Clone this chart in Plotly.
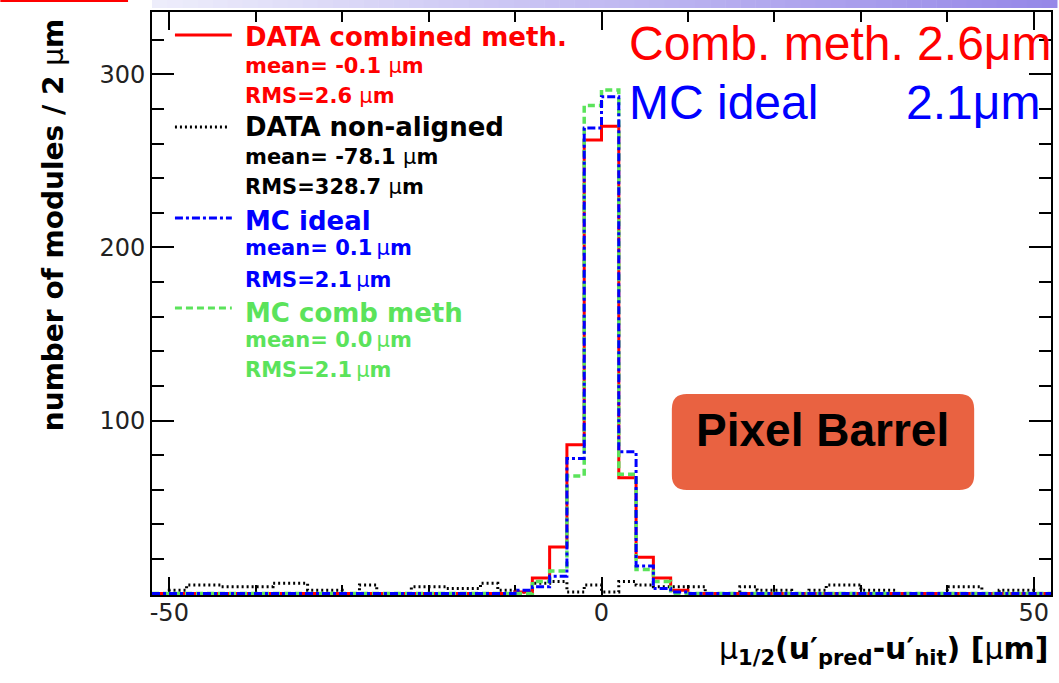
import plotly.graph_objects as go

# ---------------- data ----------------
bin_start = -52
bin_width = 2

data_combined = [0, 0, 0, 0, 0, 0, 0, 0, 0, 0,
                 0, 0, 0, 0, 0, 0, 0, 0, 0, 0,
                 0, 1, 9, 27, 86, 262, 270, 67, 21, 9,
                 2, 0, 0, 0, 0, 0, 0, 0, 0, 0,
                 0, 0, 0, 0, 0, 0, 0, 0, 0, 0,
                 0, 0]
data_nonaligned = [0, 2, 5, 5, 4, 4, 4, 6, 6, 2,
                   2, 0, 5, 0, 0, 4, 4, 3, 3, 6,
                   2, 1, 6, 7, 1, 5, 1, 7, 5, 4,
                   4, 4, 0, 0, 4, 2, 2, 0, 2, 5,
                   5, 2, 2, 0, 0, 0, 4, 4, 0, 2,
                   2, 0]
mc_ideal = [0, 0, 0, 0, 0, 0, 0, 0, 0, 0,
            0, 0, 0, 0, 0, 0, 0, 0, 0, 0,
            0, 2, 4, 10, 78, 269, 287, 82, 16, 3,
            1, 0, 0, 0, 0, 0, 0, 0, 0, 0,
            0, 0, 0, 0, 0, 0, 0, 0, 0, 0,
            0, 0]
mc_comb = [0, 0, 0, 0, 0, 0, 0, 0, 0, 0,
           0, 0, 0, 0, 0, 0, 0, 0, 0, 0,
           0, 0, 7, 13, 68, 282, 291, 69, 14, 7,
           0, 0, 0, 0, 0, 0, 0, 0, 0, 0,
           0, 0, 0, 0, 0, 0, 0, 0, 0, 0,
           0, 0]

x_tickvals = [-50, 0, 50]
x_ticktext = ["-50", "0", "50"]
y_tickvals = [100, 200, 300]
y_ticktext = ["100", "200", "300"]

# ---------------- geometry helpers ----------------
W, H = 1059, 683
L, R, T, B = 152, 1053, 12, 595


def px(x):
    return (x - L) / (R - L)


def py(y):
    return (B - y) / (B - T)


RED = "#ff0000"
BLACK = "#000000"
BLUE = "#0000ff"
GREEN = "#5be35b"
FONT = "DejaVu Sans"

edges = [bin_start + bin_width * i for i in range(len(data_combined) + 1)]


def step(vals):
    return vals + [vals[-1]]


fig = go.Figure()
series = [
    (data_nonaligned, BLACK, "2px,3px", 3),
    (data_combined, RED, "solid", 3),
    (mc_comb, GREEN, "7px,4px", 3.5),
    (mc_ideal, BLUE, "8px,3px,3px,3px", 3),
]
for vals, col, dash, w in series:
    fig.add_trace(go.Scatter(x=edges, y=step(vals), mode="lines",
                             line=dict(color=col, width=w, dash=dash, shape="hv"),
                             showlegend=False, hoverinfo="skip"))

shapes = []
# header decoration: red line + gradient bar
shapes.append(dict(type="rect", xref="paper", yref="paper",
                   x0=px(0), x1=px(128), y0=py(0), y1=py(2),
                   fillcolor=RED, line=dict(width=0), layer="above"))
c0 = (237, 237, 251)
c1 = (150, 136, 232)
n = 60
for i in range(n):
    t = i / (n - 1)
    col = "rgb(%d,%d,%d)" % tuple(round(a + (b - a) * t) for a, b in zip(c0, c1))
    xa = 152 + (1059 - 152) * i / n
    xb = 152 + (1059 - 152) * (i + 1) / n + 0.5
    shapes.append(dict(type="rect", xref="paper", yref="paper",
                       x0=px(xa), x1=px(xb), y0=py(0), y1=py(8),
                       fillcolor=col, line=dict(width=0), layer="above"))

# legend samples
for (y, col, dash, x1) in [(35, RED, "solid", 232), (127, BLACK, "2px,3px", 228),
                           (218, BLUE, "8px,3px,3px,3px", 232), (308, GREEN, "7px,4px", 232)]:
    shapes.append(dict(type="line", xref="paper", yref="paper",
                       x0=px(175), x1=px(x1), y0=py(y), y1=py(y),
                       line=dict(color=col, width=3, dash=dash)))

# rounded box for "Pixel Barrel"
bx0, bx1, by0, by1, r = 673, 976, 394, 490, 15
pts = [
    ("M", bx0 + r, by0), ("L", bx1 - r, by0), ("Q", bx1, by0, bx1, by0 + r),
    ("L", bx1, by1 - r), ("Q", bx1, by1, bx1 - r, by1), ("L", bx0 + r, by1),
    ("Q", bx0, by1, bx0, by1 - r), ("L", bx0, by0 + r), ("Q", bx0, by0, bx0 + r, by0),
]
path = ""
for p in pts:
    cmd = p[0]
    coords = p[1:]
    s = " ".join("%.5f,%.5f" % (px(coords[k]), py(coords[k + 1])) for k in range(0, len(coords), 2))
    path += "%s %s " % (cmd, s)
path += "Z"
shapes.append(dict(type="path", xref="paper", yref="paper", path=path,
                   fillcolor="#e96241", line=dict(width=0)))

annotations = []


def txt(x, y, text, color, size, xanchor="left", family=FONT, angle=0):
    annotations.append(dict(x=px(x), y=py(y), xref="paper", yref="paper",
                            text=text, showarrow=False, xanchor=xanchor, yanchor="middle",
                            textangle=angle,
                            font=dict(family=family, size=size, color=color)))


MU = "\u03bc"
legend_lines = [
    (RED, [("<b>DATA combined meth.</b>", 26, 37), ("<b>mean= -0.1 </b>" + MU + "<b>m</b>", 21, 66),
           ("<b>RMS=2.6 </b>" + MU + "<b>m</b>", 21, 96)]),
    (BLACK, [("<b>DATA non-aligned</b>", 26, 127), ("<b>mean= -78.1 </b>" + MU + "<b>m</b>", 21, 157),
             ("<b>RMS=328.7 </b>" + MU + "<b>m</b>", 21, 187)]),
    (BLUE, [("<b>MC ideal</b>", 26, 221), ("<b>mean= 0.1</b>\u2009" + MU + "<b>m</b>", 21, 248),
            ("<b>RMS=2.1</b>\u2009" + MU + "<b>m</b>", 21, 280)]),
    (GREEN, [("<b>MC comb meth</b>", 26, 313), ("<b>mean= 0.0</b>\u2009" + MU + "<b>m</b>", 21, 340),
             ("<b>RMS=2.1</b>\u2009" + MU + "<b>m</b>", 21, 370)]),
]
for col, items in legend_lines:
    for text, size, y in items:
        txt(243, y, text, col, size)

LIB = "Liberation Sans"
txt(628, 44, "Comb. meth. 2.6" + MU + "m", RED, 48, family=LIB)
txt(628, 103, "MC ideal", BLUE, 48, family=LIB)
txt(1044, 103, "2.1" + MU + "m", BLUE, 48, xanchor="right", family=LIB)
txt(824, 430, "<b>Pixel Barrel</b>", BLACK, 46, xanchor="center", family=LIB)

# axis titles
txt(53, 225, "<b>number of modules / 2 </b>" + MU + "<b>m</b>", BLACK, 28, xanchor="center", angle=-90)
txt(1053, 651, MU + "<b><sub>1/2</sub>(u\u2032<sub>pred</sub>-u\u2032<sub>hit</sub>) [</b>" + MU + "<b>m]</b>",
    BLACK, 30, xanchor="right")

fig.update_layout(
    width=W, height=H,
    margin=dict(l=L, r=W - R, t=T, b=H - B, pad=0),
    paper_bgcolor="white", plot_bgcolor="white",
    shapes=shapes, annotations=annotations,
    showlegend=False,
    xaxis=dict(range=[-52, 52], tickvals=x_tickvals, ticktext=x_ticktext,
               ticks="inside", ticklen=18, tickwidth=2, tickcolor="black",
               minor=dict(tickmode="linear", tick0=0, dtick=10, ticks="inside",
                          ticklen=10, tickwidth=2, tickcolor="black"),
               showline=True, linecolor="black", linewidth=2, mirror="ticks",
               showgrid=False, zeroline=False, layer="below traces",
               ticklabelstandoff=-5,
               tickfont=dict(family=FONT, size=24, color="#222")),
    yaxis=dict(range=[-0.8, 336], tickvals=y_tickvals, ticktext=y_ticktext,
               ticks="inside", ticklen=22, tickwidth=2, tickcolor="black",
               minor=dict(tickmode="linear", tick0=0, dtick=20, ticks="inside",
                          ticklen=12, tickwidth=2, tickcolor="black"),
               showline=True, linecolor="black", linewidth=2, mirror="ticks",
               showgrid=False, zeroline=False, layer="below traces",
               tickfont=dict(family=FONT, size=24, color="#222")),
)

fig.write_html("out.html")
